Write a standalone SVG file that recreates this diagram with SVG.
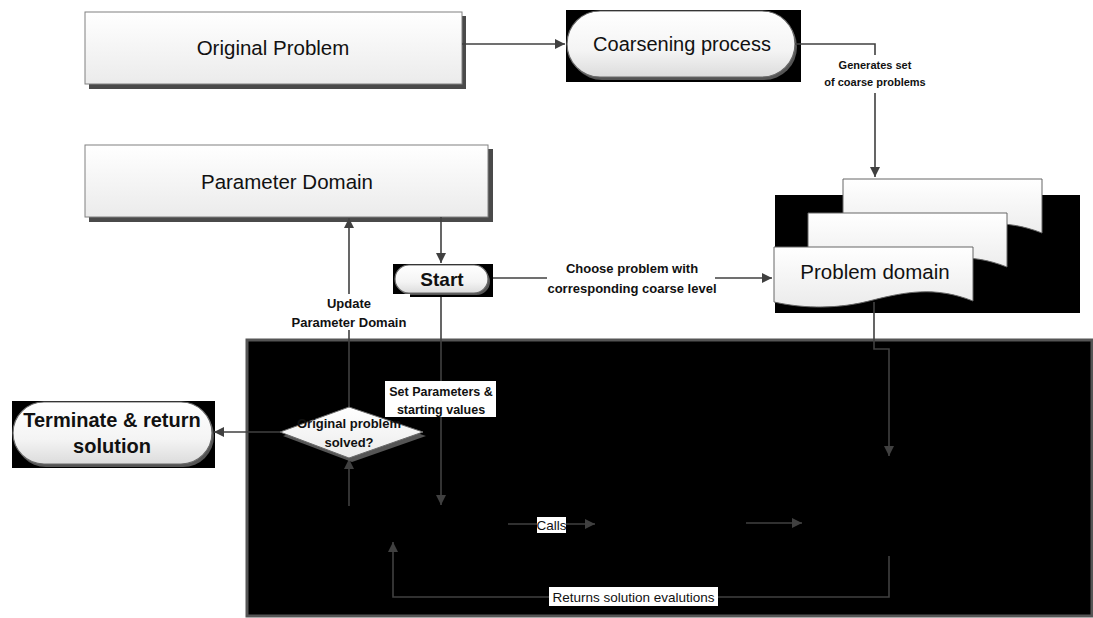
<svg xmlns="http://www.w3.org/2000/svg" width="1093" height="618" viewBox="0 0 1093 618">
<defs>
<linearGradient id="gBox" x1="0" y1="0" x2="0" y2="1"><stop offset="0" stop-color="#ffffff"/><stop offset="1" stop-color="#ebebeb"/></linearGradient>
<linearGradient id="gPill" x1="0" y1="0" x2="0" y2="1"><stop offset="0" stop-color="#ffffff"/><stop offset="0.6" stop-color="#f4f4f4"/><stop offset="1" stop-color="#dcdcdc"/></linearGradient>
<marker id="arr" markerUnits="userSpaceOnUse" markerWidth="11" markerHeight="11" refX="10" refY="5" orient="auto"><path d="M0,0 L10,5 L0,10 z" fill="#404040"/></marker>
<path id="doc" d="M0,0 H199 V54 C161,39 131,45 99,53 C66,62 31,62 0,55 Z"/>
</defs>
<style>
.box{fill:url(#gBox);stroke:#808080;stroke-width:1}
.shadow{fill:#4a4a4a}
.pill{fill:url(#gPill);stroke:#6a6a6a;stroke-width:1.2}
.bk{fill:#000}
.t{font-family:"Liberation Sans",Arial,sans-serif;fill:#111;text-anchor:middle}
.big{font-size:20.5px}
.bold{font-weight:bold}
.lbl{font-family:"Liberation Sans",Arial,sans-serif;font-weight:bold;font-size:13px;fill:#111;text-anchor:middle}
.reg{font-family:"Liberation Sans",Arial,sans-serif;font-size:13.5px;fill:#111;text-anchor:middle}
.c{fill:none;stroke:#404040;stroke-width:1.6}
.wb{fill:#fff}
</style>

<g id="container">
<rect x="247" y="340" width="845" height="276" fill="#000" stroke="#555" stroke-width="3"/>
</g>

<g id="original-problem">
<rect class="shadow" x="89" y="16" width="377" height="73"/>
<rect class="box" x="85" y="12" width="377" height="72"/>
<text class="t big" x="273" y="55">Original Problem</text>
</g>

<g id="coarsening-process">
<rect class="bk" x="566" y="10" width="235" height="72"/>
<rect x="569" y="14" width="228" height="66" rx="33" fill="#555"/>
<rect class="pill" x="567" y="11" width="228" height="66" rx="33"/>
<text class="t" x="682" y="51" style="font-size:20px">Coarsening process</text>
</g>

<g id="parameter-domain">
<rect class="shadow" x="89" y="149" width="404" height="73"/>
<rect class="box" x="85" y="145" width="403" height="72"/>
<text class="t big" x="287" y="189">Parameter Domain</text>
</g>

<g id="problem-domain">
<rect class="bk" x="775" y="195" width="305" height="118"/>
<use href="#doc" transform="translate(843,179)" fill="url(#gBox)" stroke="#666" stroke-width="1"/>
<use href="#doc" transform="translate(808,213)" fill="url(#gBox)" stroke="#666" stroke-width="1"/>
<use href="#doc" transform="translate(774,247)" fill="url(#gBox)" stroke="#666" stroke-width="1"/>
<text class="t big" x="875" y="279">Problem domain</text>
</g>

<g id="start">
<rect class="bk" x="393" y="264" width="100" height="33"/>
<rect x="397" y="268" width="93" height="27" rx="13.5" fill="#555"/>
<rect class="pill" x="395" y="265" width="93" height="28" rx="14"/>
<text class="t bold" x="442" y="286" style="font-size:19px">Start</text>
</g>

<g id="terminate">
<rect class="bk" x="12" y="401" width="203" height="67"/>
<rect x="15" y="405" width="199" height="62" rx="31" fill="#555"/>
<rect class="pill" x="13" y="402" width="199" height="62" rx="31"/>
<text class="t bold" x="112" y="427" style="font-size:20px">Terminate &amp; return</text>
<text class="t bold" x="112" y="453" style="font-size:20px">solution</text>
</g>

<g id="connectors">
<path class="c" d="M462,44 H565" marker-end="url(#arr)"/>
<path class="c" d="M795,44 H875 V177" marker-end="url(#arr)"/>
<path class="c" d="M441,217 V263" marker-end="url(#arr)"/>
<path class="c" d="M493,278 H772" marker-end="url(#arr)"/>
<path class="c" d="M441,297 V505" marker-end="url(#arr)"/>
<path class="c" d="M349,407 V218" marker-end="url(#arr)"/>
<path class="c" d="M280,432 H214" marker-end="url(#arr)"/>
<path class="c" d="M349,506 V459" marker-end="url(#arr)"/>
<path class="c" d="M508,524 H595" marker-end="url(#arr)"/>
<path class="c" d="M746,523 H802" marker-end="url(#arr)"/>
<path class="c" d="M874,302 V349 H889 V456" marker-end="url(#arr)"/>
<path class="c" d="M889,556 V597 H393 V542" marker-end="url(#arr)"/>
</g>

<g id="labels">
<rect class="wb" x="834" y="55" width="84" height="38"/>
<text class="lbl" x="875" y="69" style="font-size:11px">Generates set</text>
<text class="lbl" x="875" y="86" style="font-size:11px">of coarse problems</text>
<rect class="wb" x="547" y="258" width="168" height="40"/>
<text class="lbl" x="632" y="272.5">Choose problem with</text>
<text class="lbl" x="632" y="292.5">corresponding coarse level</text>
<rect class="wb" x="290" y="294" width="120" height="36"/>
<text class="lbl" x="349" y="307.5">Update</text>
<text class="lbl" x="349" y="326.5">Parameter Domain</text>
<rect class="wb" x="385" y="381" width="111" height="36"/>
<text class="lbl" x="441" y="395.5" style="font-size:12.5px">Set Parameters &amp;</text>
<text class="lbl" x="441" y="413.5" style="font-size:12.5px">starting values</text>
<rect class="wb" x="537" y="517" width="29" height="16"/>
<text class="reg" x="551.5" y="530">Calls</text>
<rect class="wb" x="549" y="587" width="169" height="19"/>
<text class="reg" x="633.5" y="601.5">Returns solution evalutions</text>
</g>

<g id="decision">
<polygon points="352,411 426,436 352,462 283,436" fill="#555"/>
<polygon points="349,407 423,432 349,458 280,432" fill="url(#gBox)" stroke="#6a6a6a" stroke-width="1"/>
<text class="lbl" x="349" y="428">Original problem</text>
<text class="lbl" x="349" y="447">solved?</text>
</g>
</svg>
